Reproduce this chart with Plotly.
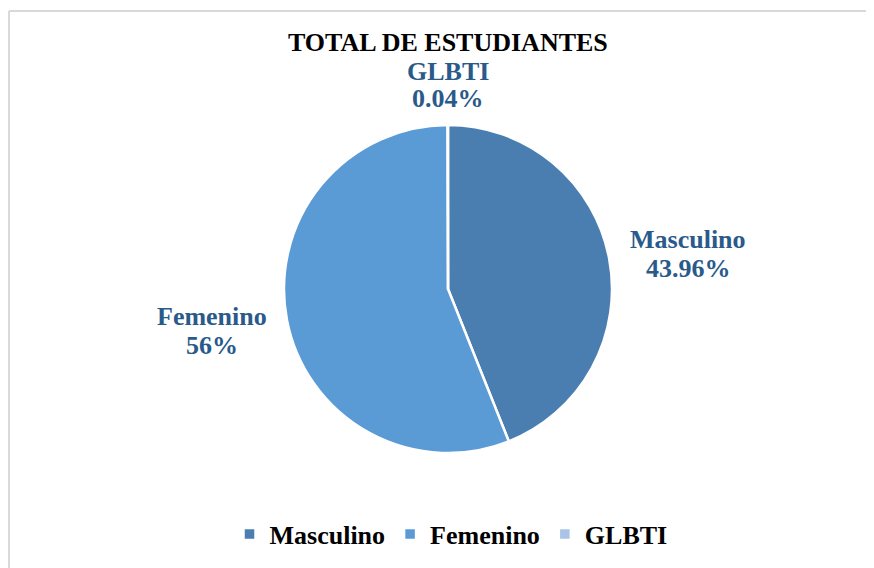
import plotly.graph_objects as go

categories = ["Masculino", "Femenino", "GLBTI"]
values = [43.96, 56.0, 0.04]
value_labels = ["43.96%", "56%", "0.04%"]

colors = ["#4a7eb1", "#5b9bd5", "#a9c4e6"]
label_color = "#2a5a8a"
OFF = 8  # page body margin
W, H = 874 - OFF, 568 - OFF
FONT = "Liberation Serif, Times New Roman, serif"


def px_x(x):
    return (x - OFF) / W


def px_y(y):
    return 1 - (y - OFF) / H


fig = go.Figure()
fig.add_trace(go.Pie(
    labels=categories,
    values=values,
    sort=False,
    direction="clockwise",
    rotation=0,
    marker=dict(colors=colors, line=dict(color="white", width=2.5)),
    textinfo="none",
    hoverinfo="label+percent",
    domain=dict(x=[px_x(284), px_x(612)], y=[px_y(453), px_y(125)]),
))

# data labels placed outside the slices (name line, value line)
label_pos = [(688, 239, 268), (212, 316, 345), (448, 71, 99)]
for cat, vl, (px, py1, py2) in zip(categories, value_labels, label_pos):
    for txt, py in ((cat, py1), (vl, py2)):
        fig.add_annotation(
            x=px_x(px), y=px_y(py), xref="paper", yref="paper",
            text=txt, showarrow=False,
            font=dict(family=FONT, size=26, color=label_color, weight="bold"),
            xanchor="center", yanchor="middle",
        )

fig.add_annotation(
    x=px_x(448), y=px_y(42), xref="paper", yref="paper",
    text="TOTAL DE ESTUDIANTES", showarrow=False,
    font=dict(family=FONT, size=26, color="black", weight="bold"),
    xanchor="center", yanchor="middle",
)

# chart-area frame: only its left and top edges fall inside the picture
border = dict(color="#d9d9d9", width=2)
fig.add_shape(type="line", xref="paper", yref="paper",
              x0=px_x(9), x1=px_x(9), y0=0, y1=px_y(11), line=border)
fig.add_shape(type="line", xref="paper", yref="paper",
              x0=px_x(9), x1=1, y0=px_y(11), y1=px_y(11), line=border)

fig.update_layout(
    width=W, height=H,
    margin=dict(l=0, r=0, t=0, b=0),
    paper_bgcolor="white", plot_bgcolor="white",
    font=dict(family=FONT),
    showlegend=True,
    legend=dict(
        orientation="h", x=px_x(451), xanchor="center", y=px_y(534), yanchor="middle",
        font=dict(family=FONT, size=26, color="black", weight="bold"),
        itemwidth=30, traceorder="normal",
    ),
)

fig.write_html("out.html")
